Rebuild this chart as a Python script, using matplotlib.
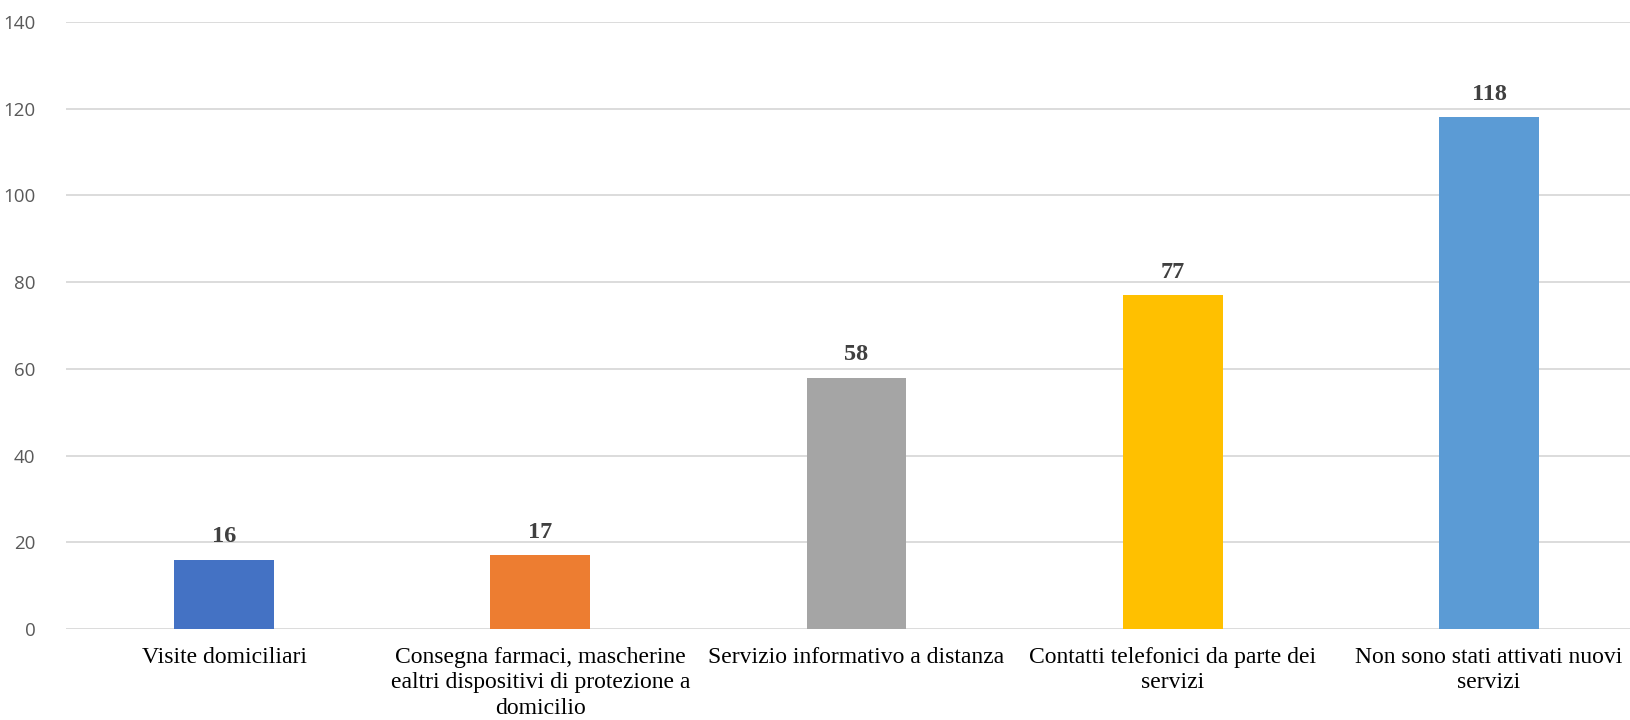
import numpy as np
from matplotlib import pyplot as plt

# Dati
categorie = [
    "Visite domiciliari",
    "Consegna farmaci, mascherine\nealtri dispositivi di protezione a\ndomicilio",
    "Servizio informativo a distanza",
    "Contatti telefonici da parte dei\nservizi",
    "Non sono stati attivati nuovi\nservizi",
]
valori = [16, 17, 58, 77, 118]
colori = ["#4472C4", "#ED7D31", "#A5A5A5", "#FFC000", "#5B9BD5"]
yticks = [0, 20, 40, 60, 80, 100, 120, 140]

fig = plt.figure(figsize=(16.3, 7.2), dpi=100)
ax = fig.add_axes([66 / 1630, 1 - 629 / 720, 1 - 66 / 1630, (629 - 22) / 720])

x = np.arange(len(categorie))
barre = ax.bar(x, valori, width=0.316, color=colori, zorder=3)

# Etichette dei valori
for b, v in zip(barre, valori):
    ax.annotate(str(v), (b.get_x() + b.get_width() / 2, v),
                xytext=(0, 9), textcoords="offset points",
                ha="center", va="bottom", fontsize=17.5, fontweight="bold",
                family="Liberation Serif", color="#404040")

# Assi
ax.set_xlim(-0.5, 4.446)
ax.set_ylim(0, 140)
ax.set_yticks(yticks)
ax.set_xticks(x)
ax.set_xticklabels(categorie, family="Liberation Serif", fontsize=17,
                   color="black", linespacing=1.27)
for lab in ax.get_yticklabels():
    lab.set_family("Open Sans")
    lab.set_fontsize(13.5)
    lab.set_color("#595959")

ax.tick_params(axis="x", length=0, pad=13)
ax.tick_params(axis="y", length=0, pad=22)
ax.grid(axis="y", color="#D9D9D9", linewidth=1.3, zorder=0)
for s in ax.spines.values():
    s.set_visible(False)

fig.savefig("out.png", dpi=100)
